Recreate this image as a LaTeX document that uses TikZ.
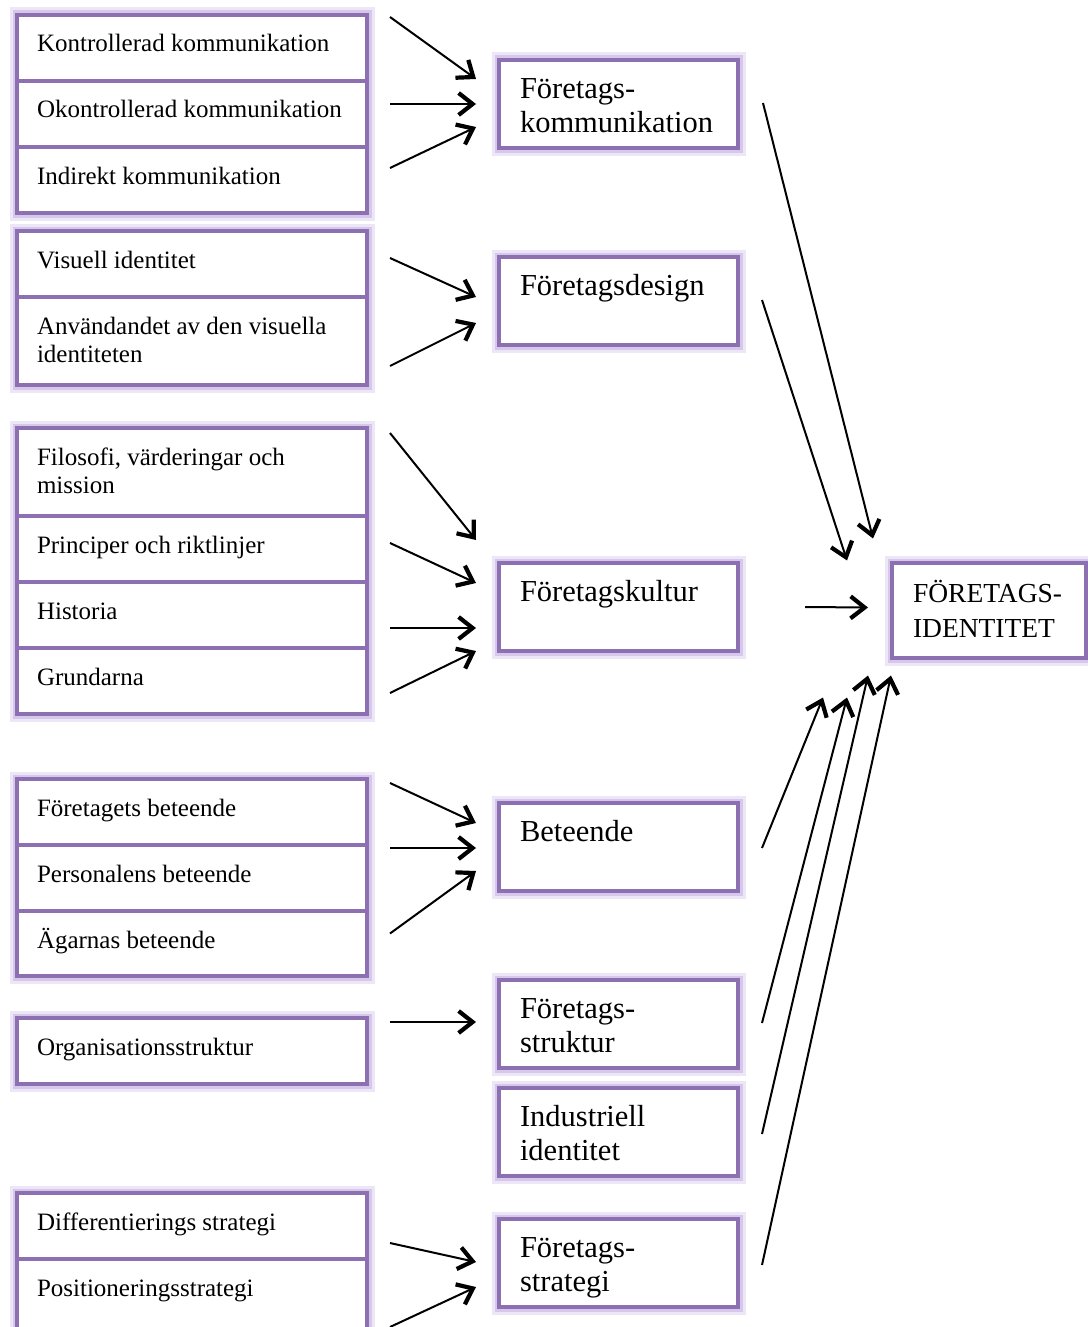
\documentclass[tikz,border=0pt]{standalone}
\usepackage{fontspec}
\setmainfont{Liberation Serif}
\usepackage{xcolor}
\usetikzlibrary{arrows.meta, positioning, calc, backgrounds}

\definecolor{boxline}{RGB}{140,112,178}
\definecolor{boxglow}{RGB}{214,200,234}

\newcommand{\cellfont}{\fontsize{25}{28}\selectfont}
\newcommand{\midfont}{\fontsize{30.5}{34}\selectfont}
\newcommand{\goalfont}{\fontsize{27.5}{35}\selectfont}

\tikzset{
  glow/.style={draw=boxglow!45, line width=15pt, postaction={draw=boxglow, line width=9pt}},
  frame/.style={draw=boxline, fill=white, line width=3.5pt, outer sep=0pt, inner ysep=0pt,
    anchor=north west},
  halo/.style={preaction={draw=boxglow!45, line width=15pt},
    preaction={draw=boxglow, line width=9pt}},
  cell/.style={frame, inner xsep=20pt, font=\cellfont,
    execute at begin node={\begin{minipage}[c][#1pt][t]{310pt}\raggedright\rule{0pt}{37pt}},
    execute at end node={\end{minipage}}},
  mid/.style={frame, halo, inner xsep=21pt, font=\midfont,
    execute at begin node={\begin{minipage}[c][88pt][t]{197pt}\raggedright\rule{0pt}{38pt}},
    execute at end node={\end{minipage}}},
  goal/.style={frame, halo, inner xsep=21pt, font=\goalfont,
    execute at begin node={\begin{minipage}[c][95pt][t]{152pt}\raggedright\rule{0pt}{39pt}},
    execute at end node={\end{minipage}}},
  arr/.style={line width=2pt, -{Straight Barb[length=14pt, width=22pt, line width=4.2pt]}}
}

\begin{document}
\begin{tikzpicture}[x=1pt, y=-1pt]
    \useasboundingbox (0,0) rectangle (1087,1327);

    % Left column: kommunikation
    \node[cell=66] (kk) at (17,15) {Kontrollerad kommunikation};
    \node[cell=66, below=0pt of kk] (ok) {Okontrollerad kommunikation};
    \node[cell=66, below=0pt of ok] (ik) {Indirekt kommunikation};

    % Left column: design
    \node[cell=66] (vi) at (17,231) {Visuell identitet};
    \node[cell=88, below=0pt of vi] (av) {Användandet av den visuella\\identiteten};

    % Left column: kultur
    \node[cell=88] (fv) at (17,428) {Filosofi, värderingar och\\mission};
    \node[cell=66, below=0pt of fv] (pr) {Principer och riktlinjer};
    \node[cell=66, below=0pt of pr] (hi) {Historia};
    \node[cell=66, below=0pt of hi] (gr) {Grundarna};

    % Left column: beteende
    \node[cell=66] (fb) at (17,779) {Företagets beteende};
    \node[cell=66, below=0pt of fb] (pb) {Personalens beteende};
    \node[cell=65, below=0pt of pb] (ab) {Ägarnas beteende};

    % Left column: struktur and strategi
    \node[cell=66] (os) at (17,1018) {Organisationsstruktur};
    \node[cell=66] (ds) at (17,1193) {Differentierings strategi};
    \node[cell=80, below=0pt of ds] (ps) {Positioneringsstrategi};

    % Soft edge round each stack
    \begin{scope}[on background layer]
      \draw[glow] (kk.north west) rectangle (ik.south east);
      \draw[glow] (vi.north west) rectangle (av.south east);
      \draw[glow] (fv.north west) rectangle (gr.south east);
      \draw[glow] (fb.north west) rectangle (ab.south east);
      \draw[glow] (os.north west) rectangle (os.south east);
      \draw[glow] (ds.north west) rectangle (ps.south east);
    \end{scope}

    % Middle column
    \node[mid] (fk) at (499,60) {Företags-\\kommunikation};
    \node[mid] (fd) at (499,257) {Företagsdesign};
    \node[mid] (fku) at (499,563) {Företagskultur};
    \node[mid] (bet) at (499,803) {Beteende};
    \node[mid] (fs) at (499,980) {Företags-\\struktur};
    \node[mid] (ii) at (499,1088) {Industriell\\identitet};
    \node[mid] (fst) at (499,1219) {Företags-\\strategi};

    % Right column
    \node[goal] (fi) at (892,563) {FÖRETAGS-\\IDENTITET};

    % Arrows into the middle column
    \draw[arr] ($(kk.east)+(23,-31)$) -- ($(fk.west)+(-23,-25)$);
    \draw[arr] ($(ok.east)+(23,-10)$) -- ($(fk.west)+(-23,0)$);
    \draw[arr] ($(ik.east)+(23,-12)$) -- ($(fk.west)+(-23,23)$);

    \draw[arr] ($(vi.east)+(23,-6)$) -- ($(fd.west)+(-23,-4)$);
    \draw[arr] ($(av.east)+(23,25)$) -- ($(fd.west)+(-23,22)$);

    \draw[arr] ($(fv.east)+(23,-39)$) -- ($(fku.west)+(-23,-67)$);
    \draw[arr] ($(pr.east)+(23,-6)$) -- ($(fku.west)+(-23,-24)$);
    \draw[arr] ($(hi.east)+(23,13)$) -- ($(fku.west)+(-23,21)$);
    \draw[arr] ($(gr.east)+(23,12)$) -- ($(fku.west)+(-23,44)$);

    \draw[arr] ($(fb.east)+(23,-29)$) -- ($(bet.west)+(-23,-24)$);
    \draw[arr] ($(pb.east)+(23,-30)$) -- ($(bet.west)+(-23,1)$);
    \draw[arr] ($(ab.east)+(23,-10)$) -- ($(bet.west)+(-23,24)$);

    \draw[arr] ($(os.east)+(23,-29)$) -- ($(fs.west)+(-23,-2)$);

    \draw[arr] ($(ds.east)+(23,17)$) -- ($(fst.west)+(-23,-1)$);
    \draw[arr] ($(ps.east)+(23,28)$) -- ($(fst.west)+(-23,24)$);

    % Arrows into the identity box
    \draw[arr] ($(fk.east)+(25,-1)$) -- ($(fi.west)+(-19,-72)$);
    \draw[arr] ($(fd.east)+(24,-1)$) -- ($(fi.west)+(-45,-50)$);
    \draw[arr] ($(fku.east)+(67,0)$) -- ($(fi.west)+(-24,-3)$);
    \draw[arr] ($(bet.east)+(24,1)$) -- ($(fi.west)+(-69,87)$);
    \draw[arr] ($(fs.east)+(24,-1)$) -- ($(fi.west)+(-45,87)$);
    \draw[arr] ($(ii.east)+(24,2)$) -- ($(fi.west)+(-24,65)$);
    \draw[arr] ($(fst.east)+(24,2)$) -- ($(fi.west)+(-1,65)$);
\end{tikzpicture}
\end{document}
